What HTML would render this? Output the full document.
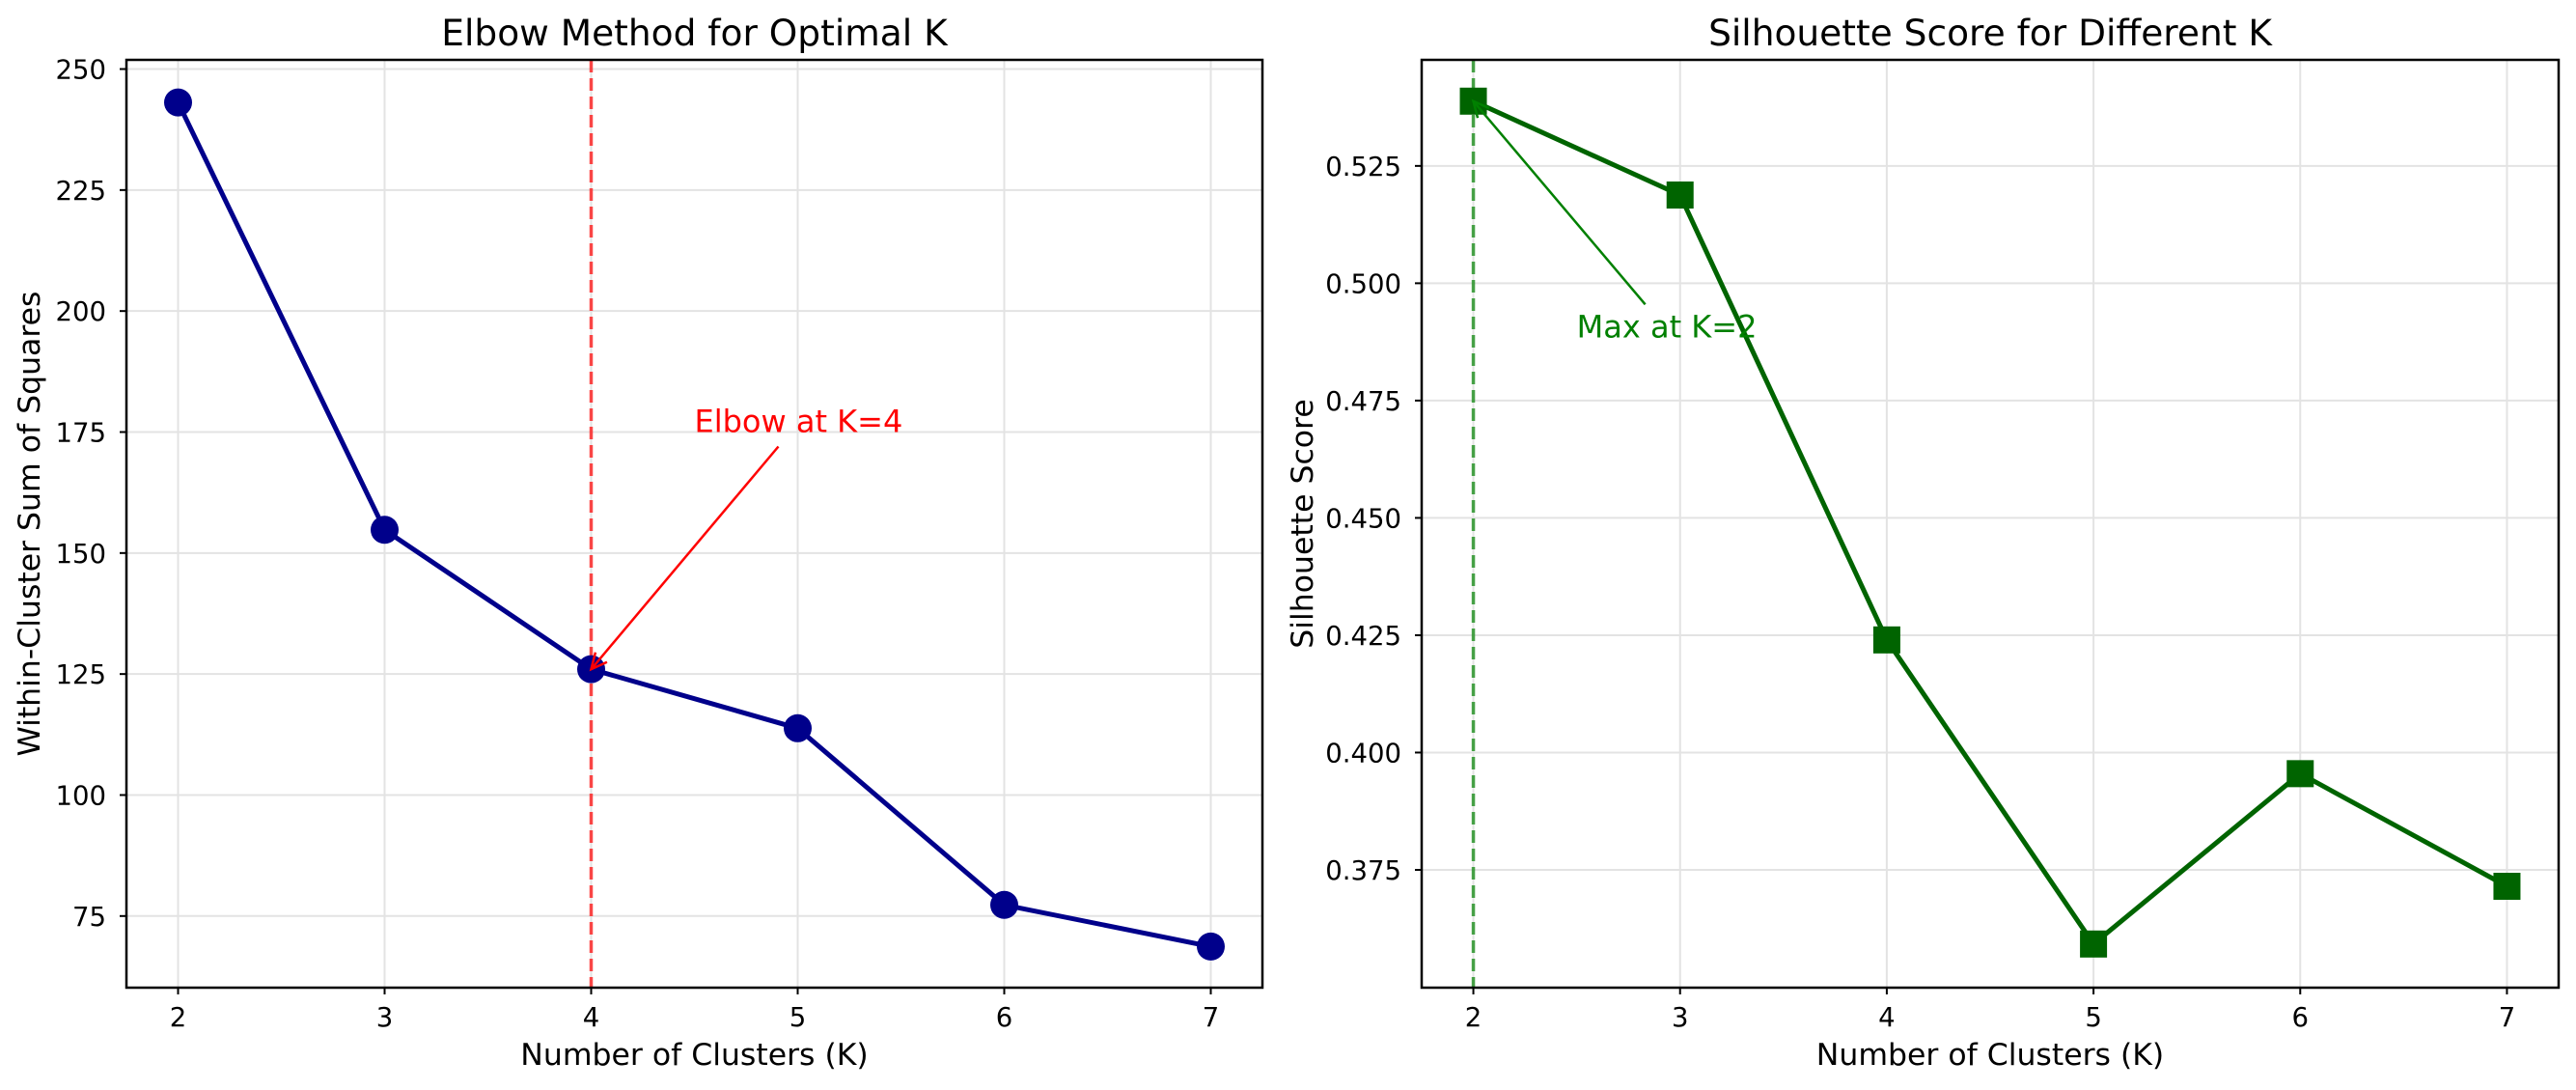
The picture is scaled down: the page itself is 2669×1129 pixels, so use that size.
<!DOCTYPE html>
<html><head><meta charset="utf-8">
<style>
html,body{margin:0;padding:0;background:#fff;}
svg{display:block;font-family:"DejaVu Sans","Liberation Sans",sans-serif;}
</style></head>
<body>
<svg id="chart" width="2669" height="1129" viewBox="0 0 2669 1129" xmlns="http://www.w3.org/2000/svg"></svg>
<script>
// ---- data ----
const kValues = [2, 3, 4, 5, 6, 7];
const wcssValues = [243.1, 154.8, 126.0, 113.8, 77.3, 68.7];
const silhouetteValues = [0.5388, 0.5188, 0.4240, 0.3592, 0.3955, 0.3715];
const xTicks = [2, 3, 4, 5, 6, 7];
const leftYTicks = [75, 100, 125, 150, 175, 200, 225, 250];
const rightYTicks = [0.375, 0.400, 0.425, 0.450, 0.475, 0.500, 0.525];
const elbowK = 4;
const bestK = 2;
const elbowText = [4.5, 175];
const maxText = [2.5, 0.4885];

const NS = 'http://www.w3.org/2000/svg';
const svg = document.getElementById('chart');
function mk(tag, attrs, parent){
  const e = document.createElementNS(NS, tag);
  for (const k in attrs) e.setAttribute(k, attrs[k]);
  (parent || svg).appendChild(e);
  return e;
}
function linScale(d0, d1, r0, r1){ return v => r0 + (v - d0) / (d1 - d0) * (r1 - r0); }

function panel(o){
  const g = mk('g', {});
  
  
  const sx = linScale(1.75, 7.25, o.x0, o.x1);
  const sy = linScale(o.ymin, o.ymax, o.y1, o.y0);
  // grid
  xTicks.forEach(t => {
    const l = mk('line', {x1: sx(t), x2: sx(t), y1: o.y0, y2: o.y1, stroke: '#e3e3e3', 'stroke-width': 2}, g);
    
    
  });
  o.yTicks.forEach(t => {
    const l = mk('line', {x1: o.x0, x2: o.x1, y1: sy(t), y2: sy(t), stroke: '#e3e3e3', 'stroke-width': 2}, g);
    
    
  });
  // vertical ref line
  const vl = mk('line', {x1: sx(o.refK), x2: sx(o.refK), y1: o.y0, y2: o.y1, stroke: o.refColor, 'stroke-opacity': 0.7, 'stroke-width': 3.5, 'stroke-dasharray': '13,6'}, g);
  
  
  // series line
  const pts = kValues.map((k, i) => sx(k) + ',' + sy(o.values[i])).join(' ');
  const pl = mk('polyline', {points: pts, fill: 'none', stroke: o.color, 'stroke-width': 5, 'stroke-linejoin': 'round'}, g);
  
  
  kValues.forEach((k, i) => {
    let m;
    if (o.marker === 'circle') m = mk('circle', {cx: sx(k), cy: sy(o.values[i]), r: 14.5, fill: o.color}, g);
    else m = mk('rect', {x: sx(k) - 14, y: sy(o.values[i]) - 14, width: 28, height: 28, fill: o.color}, g);
    
    
  });
  // annotation
  const tx = sx(o.annText[0]), ty = sy(o.annText[1]);
  const t = mk('text', {x: tx, y: ty, fill: o.annColor, 'font-size': 32}, g);
  t.textContent = o.annLabel;
  
  
  const ax0 = tx + o.tailDx, ay0 = ty + o.tailDy;
  const ax1 = sx(o.annK), ay1 = sy(o.values[kValues.indexOf(o.annK)]);
  const ang = Math.atan2(ay1 - ay0, ax1 - ax0);
  const al = mk('line', {x1: ax0, y1: ay0, x2: ax1, y2: ay1, stroke: o.annColor, 'stroke-width': 2.5}, g);
  
  
  const hl = 18, ha = 0.45;
  const hp = mk('polyline', {points: (ax1 - hl*Math.cos(ang-ha)) + ',' + (ay1 - hl*Math.sin(ang-ha)) + ' ' + ax1 + ',' + ay1 + ' ' + (ax1 - hl*Math.cos(ang+ha)) + ',' + (ay1 - hl*Math.sin(ang+ha)), fill: 'none', stroke: o.annColor, 'stroke-width': 2.5}, g);
  
  
  // frame
  const fr = mk('rect', {x: o.x0, y: o.y0, width: o.x1 - o.x0, height: o.y1 - o.y0, fill: 'none', stroke: '#000', 'stroke-width': 2.5}, g);
  
  
  // ticks
  xTicks.forEach(v => {
    const tk = mk('line', {x1: sx(v), x2: sx(v), y1: o.y1, y2: o.y1 + 7, stroke: '#000', 'stroke-width': 2}, g);
    
    
    const lb = mk('text', {x: sx(v), y: 1063, 'text-anchor': 'middle', 'font-size': 27.5, fill: '#000'}, g);
    lb.textContent = v;
    
    
  });
  o.yTicks.forEach(v => {
    const tk = mk('line', {x1: o.x0 - 7, x2: o.x0, y1: sy(v), y2: sy(v), stroke: '#000', 'stroke-width': 2}, g);
    
    
    const lb = mk('text', {x: o.x0 - 21, y: sy(v) + 10, 'text-anchor': 'end', 'font-size': 27.5, fill: '#000'}, g);
    lb.textContent = o.fmt(v);
    
    
  });
  // labels
  const xl = mk('text', {x: (o.x0 + o.x1) / 2, y: 1103, 'text-anchor': 'middle', 'font-size': 31.5, fill: '#000'}, g);
  xl.textContent = 'Number of Clusters (K)';
  
  
  const yc = (o.y0 + o.y1) / 2;
  const yl = mk('text', {x: o.ylx, y: yc, 'text-anchor': 'middle', 'font-size': 31.5, fill: '#000', transform: 'rotate(-90 ' + o.ylx + ' ' + yc + ')'}, g);
  yl.textContent = o.ylabel;
  
  
  const tt = mk('text', {x: (o.x0 + o.x1) / 2, y: 47, 'text-anchor': 'middle', 'font-size': 37.5, fill: '#000'}, g);
  tt.textContent = o.title;
  
  
}

panel({name: 'elbow-panel', x0: 131, x1: 1308, y0: 62, y1: 1023, ymin: 60.2, ymax: 251.9,
  values: wcssValues, yTicks: leftYTicks, fmt: v => String(v), color: '#00008b', marker: 'circle',
  refK: elbowK, refColor: '#ff0000', annText: elbowText, annK: elbowK, annLabel: 'Elbow at K=4', annColor: '#ff0000',
  tailDx: 87, tailDy: 15, ylx: 41, ylabel: 'Within-Cluster Sum of Squares', title: 'Elbow Method for Optimal K'});
panel({name: 'silhouette-panel', x0: 1473, x1: 2651, y0: 62, y1: 1023, ymin: 0.3499, ymax: 0.5476,
  values: silhouetteValues, yTicks: rightYTicks, fmt: v => v.toFixed(3), color: '#006400', marker: 'square',
  refK: bestK, refColor: '#008000', annText: maxText, annK: bestK, annLabel: 'Max at K=2', annColor: '#008000',
  tailDx: 71, tailDy: -34, ylx: 1360, ylabel: 'Silhouette Score', title: 'Silhouette Score for Different K'});
</script>
</body></html>
